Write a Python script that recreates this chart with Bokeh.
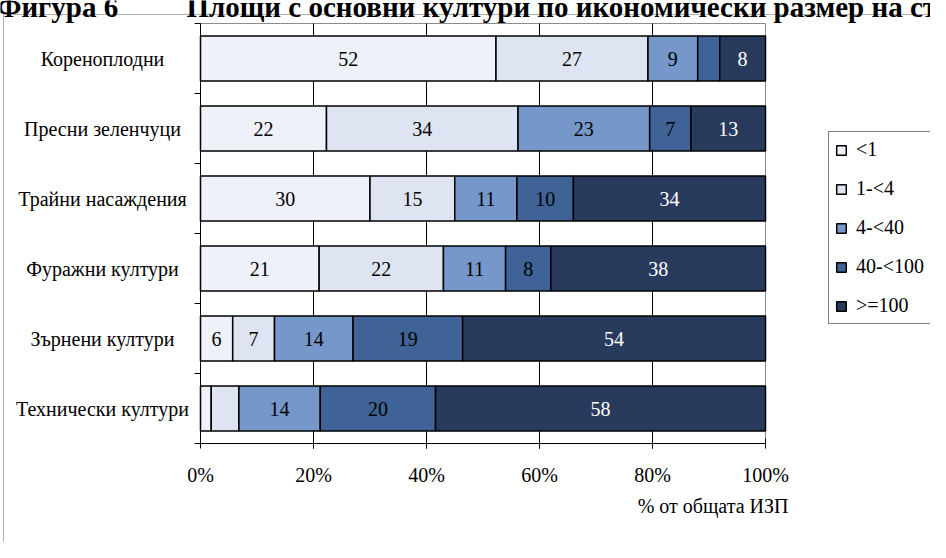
import numpy as np
from bokeh.plotting import figure
from bokeh.models import (Range1d, Legend, LegendItem, Label, BoxAnnotation, ColumnDataSource)
from bokeh.core.properties import value
from bokeh.embed import file_html
from bokeh.resources import INLINE

# ---------------- data ----------------
categories = ["Кореноплодни", "Пресни зеленчуци", "Трайни насаждения",
              "Фуражни култури", "Зърнени култури", "Технически култури"]
size_classes = ["<1", "1-<4", "4-<40", "40-<100", ">=100"]
share_lt1 = [52.3, 22.3, 30.0, 21.0, 5.7, 1.9]
share_1_4 = [26.9, 33.9, 15.0, 22.0, 7.4, 4.9]
share_4_40 = [8.8, 23.3, 11.0, 11.0, 13.9, 14.4]
share_40_100 = [3.9, 7.3, 10.0, 8.0, 19.4, 20.4]
share_ge100 = [8.1, 13.2, 34.0, 38.0, 53.6, 58.4]
x_ticks = [0, 20, 40, 60, 80, 100]
x_tick_labels = ["0%", "20%", "40%", "60%", "80%", "100%"]
x_axis_title = "% от общата ИЗП"
title_fig = "Фигура 6"
title_text = "Площи с основни култури по икономически размер на стопанствата"

series = [share_lt1, share_1_4, share_4_40, share_40_100, share_ge100]
colors = ["#EEF1FA", "#DEE4F1", "#7597C9", "#3F6396", "#283B5D"]
text_colors = ["black", "black", "black", "black", "white"]
FONT_NAME = "Liberation Serif"
FONT = value(FONT_NAME)

# ---------------- layout (canvas px) ----------------
W, H = 930, 542
PL, PR, PT, PB = 200, 765, 23, 443          # plot area in canvas pixels
NC = len(categories)
XU = (PR - PL) / 100.0                      # px per x unit
YU = (PB - PT) / NC                         # px per y unit

def dx(cx):   # canvas x -> data x
    return (cx - PL) / XU

def dy(cy):   # canvas y -> data y
    return (PB - cy) / YU

ypos = [NC - i - 0.5 for i in range(NC)]    # first category on top

p = figure(width=W, height=H, output_backend="svg", toolbar_location=None,
           x_range=Range1d(dx(0), dx(W)), y_range=Range1d(dy(H), dy(0)),
           x_axis_location=None, y_axis_location=None,
           min_border=0, min_border_left=0, min_border_right=0, min_border_top=0, min_border_bottom=0,
           background_fill_color="white", border_fill_color="white")
p.outline_line_color = None
for g in p.grid:
    g.visible = False

# plot-area frame (grey) and vertical grid lines
p.quad(left=[x_ticks[0]], right=[x_ticks[-1]], bottom=[0], top=[NC],
       fill_color=None, line_color="#8c8c8c", line_width=1)
inner = x_ticks[1:-1]
p.segment(x0=inner, y0=[-5 / YU] * len(inner), x1=inner, y1=[NC] * len(inner),
          line_color="black", line_width=1)

# stacked bars
renderers = []
left = np.zeros(NC)
for i, vals in enumerate(series):
    vals = np.array(vals, dtype=float)
    right = left + vals
    src = ColumnDataSource(dict(y=ypos, left=left, right=right))
    r = p.hbar(y="y", left="left", right="right", height=0.64, source=src,
               fill_color=colors[i], line_color="black", line_width=1.5)
    renderers.append(r)
    show = vals >= 5
    lab_src = ColumnDataSource(dict(x=((left + right) / 2)[show], y=np.array(ypos)[show],
                                    lab=["%.0f" % v for v in vals[show]]))
    p.text(x="x", y="y", text="lab", source=lab_src, text_align="center", text_baseline="middle",
           text_font=FONT, text_font_size="20px", text_color=text_colors[i])
    left = right

# x axis: line, ticks crossing it, labels
p.segment(x0=[x_ticks[0]], y0=[0], x1=[x_ticks[-1]], y1=[0], line_color="black", line_width=1)
p.segment(x0=x_ticks, y0=[5 / YU] * len(x_ticks), x1=x_ticks, y1=[-5 / YU] * len(x_ticks),
          line_color="black", line_width=1)
p.text(x=x_ticks, y=[dy(474)] * len(x_ticks), text=x_tick_labels, text_align="center",
       text_baseline="middle", text_font=FONT, text_font_size="20px", text_color="black")
p.text(x=[dx(788)], y=[dy(505)], text=[x_axis_title], text_align="right", text_baseline="middle",
       text_font=FONT, text_font_size="20px", text_color="black")

# y axis: line, tick marks at the band boundaries, centred category labels
bounds = list(range(NC + 1))
p.segment(x0=[0], y0=[0], x1=[0], y1=[NC], line_color="black", line_width=1)
p.segment(x0=[0] * len(bounds), y0=bounds, x1=[-6 / XU] * len(bounds), y1=bounds,
          line_color="black", line_width=1)
p.text(x=[dx(102)] * NC, y=ypos, text=categories, text_align="center", text_baseline="middle",
       text_font=FONT, text_font_size="20px", text_color="black")

# legend
legend = Legend(items=[LegendItem(label=s, renderers=[r]) for s, r in zip(size_classes, renderers)],
                location=(828, H - 324), orientation="vertical",
                border_line_color="black", border_line_width=1, background_fill_color="white",
                background_fill_alpha=1.0, padding=6, spacing=16, margin=0, label_standoff=9,
                glyph_width=12, glyph_height=12, label_height=22, label_width=100,
                label_text_font=FONT_NAME, label_text_font_size="20px", label_text_color="black")
p.add_layout(legend)

# outer chart border
p.add_layout(BoxAnnotation(left=dx(3), right=dx(2000), top=dy(14), bottom=dy(2000),
                           fill_alpha=0, line_color="black", line_width=1))

# figure caption (cropped at the top of the page)
p.add_layout(Label(x=dx(-4), y=dy(6), text=title_fig, text_align="left", text_baseline="alphabetic",
                   text_font=FONT_NAME, text_font_size="29px", text_font_style="bold",
                   text_color="black"))
p.add_layout(Label(x=dx(186), y=dy(6), text=title_text, text_align="left", text_baseline="alphabetic",
                   text_font=FONT_NAME, text_font_size="29px", text_font_style="bold",
                   text_color="black"))

open("out.html", "w").write(file_html(p, INLINE))
